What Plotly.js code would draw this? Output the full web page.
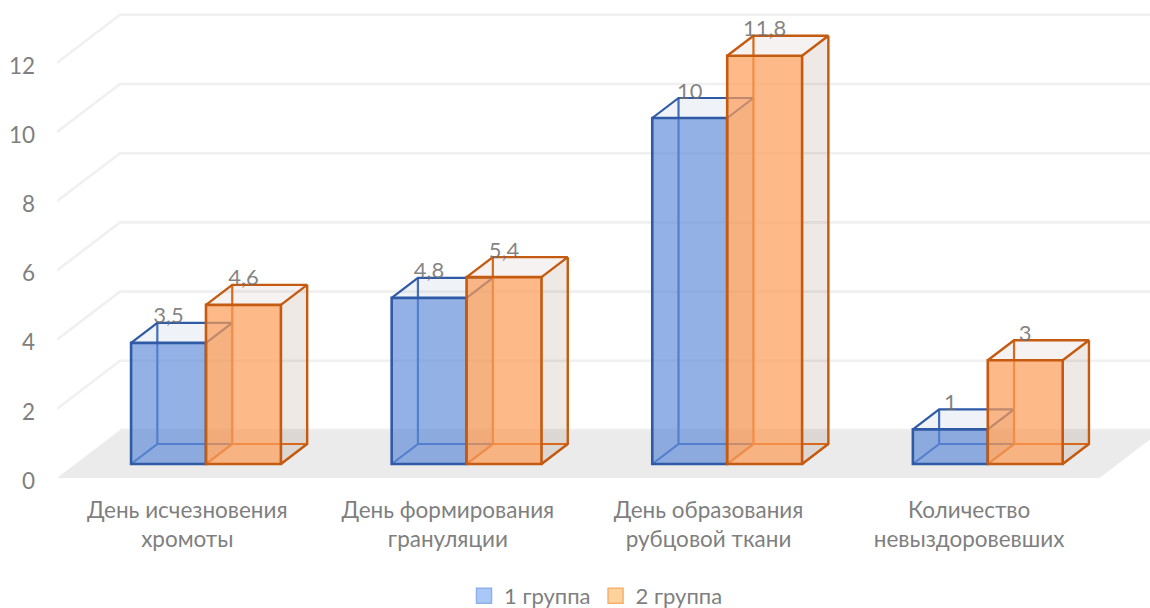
<!DOCTYPE html>
<html>
<head>
<meta charset="utf-8">
<script src="https://cdn.plot.ly/plotly-3.0.1.min.js"></script>
<style>html,body{margin:0;padding:0;background:#fff}#chart{width:1150px;height:608px}</style>
</head>
<body>
<div id="chart"></div>
<script>
// Chart values
const categories = ['День исчезновения<br>хромоты', 'День формирования<br>грануляции', 'День образования<br>рубцовой ткани', 'Количество<br>невыздоровевших'];
const group1Values = [3.5, 4.8, 10, 1];
const group2Values = [4.6, 5.4, 11.8, 3];
const seriesNames = ['1 группа', '2 группа'];
const yTicks = [0, 2, 4, 6, 8, 10, 12];

// Pseudo-3D geometry, in axis units
const W = 1150, H = 608, LEFT = 57, BOTTOM = 130;
const pxX = 260.6, pxY = 34.6;             // pixels per axis unit
const xMax = (W - LEFT) / pxX, yMax = (H - BOTTOM) / pxY;
const floorDX = 63 / pxX, floorDY = 48 / pxY; // shift from the front plane to the back wall
const tFront = 14 / 48, tBack = 34 / 48;   // depth of the bar faces within the floor
const barW = 0.2875, barGap = 0.2137;
const labelLift = 25 / pxY;

const project = (x, v, t) => [x + t * floorDX, v + t * floorDY];
const FONT = 'Lato, "Noto Sans", sans-serif';
const TEXT = '#7f7f7f';

function poly(points, fill, line, width, axes) {
  const closed = points.concat([points[0]]);
  return {
    type: 'scatter', mode: line ? 'lines' : 'none',
    x: closed.map(p => p[0]), y: closed.map(p => p[1]),
    fill: 'toself', fillcolor: fill,
    line: { color: line || 'rgba(0,0,0,0)', width: width || 0 },
    hoverinfo: 'skip', showlegend: false, xaxis: axes[0], yaxis: axes[1]
  };
}
function path(segments, color, width, axes) {
  const xs = [], ys = [];
  segments.forEach(seg => { seg.forEach(p => { xs.push(p[0]); ys.push(p[1]); }); xs.push(null); ys.push(null); });
  return {
    type: 'scatter', mode: 'lines', x: xs, y: ys,
    line: { color: color, width: width },
    hoverinfo: 'skip', showlegend: false, xaxis: axes[0], yaxis: axes[1]
  };
}

const xLeft = (cat, idx) => cat + barGap + idx * barW;

function boxCorners(cat, idx, value) {
  const x0 = xLeft(cat, idx), x1 = x0 + barW;
  return {
    fbl: project(x0, 0, tFront), fbr: project(x1, 0, tFront),
    ftl: project(x0, value, tFront), ftr: project(x1, value, tFront),
    bbl: project(x0, 0, tBack), bbr: project(x1, 0, tBack),
    btl: project(x0, value, tBack), btr: project(x1, value, tBack)
  };
}
function backEdges(values, idx, color, axes) {
  const segs = [];
  values.forEach((v, c) => {
    const k = boxCorners(c, idx, v);
    segs.push([k.fbl, k.bbl, k.btl], [k.bbl, k.bbr], [k.fbr, k.bbr]);
  });
  return path(segs, color, 2.2, axes);
}
function frontBars(values, idx, name, fill, edge, axes) {
  const base = project(0, 0, tFront)[1];
  return {
    type: 'bar', name: name, showlegend: false, hoverinfo: 'skip',
    x: values.map((v, c) => project(xLeft(c, idx) + barW / 2, 0, tFront)[0]),
    y: values, base: values.map(() => base), width: values.map(() => barW),
    marker: { color: fill, line: { color: edge, width: 2.6 } },
    xaxis: axes[0], yaxis: axes[1]
  };
}

const traces = [];
const A1 = ['x', 'y'], A2 = ['x2', 'y2'], A3 = ['x3', 'y3'];

// Floor and wall grid
traces.push(poly([project(0, 0, 0), project(4, 0, 0), project(4, 0, 1), project(0, 0, 1)], '#ebebeb', null, 0, A1));
traces.push(path(yTicks.slice(1).map(v => [project(0, v, 0), project(0, v, 1), project(4.2, v, 1)]), '#f0f0f0', 2.6, A1));
traces.push(path([[project(0, 0, 1), project(4.2, 0, 1)]], '#ededed', 2.6, A1));

const BLUE_EDGE = '#2f5aa5', ORANGE_EDGE = '#c55a11';

// First group: inner edges below its front faces
traces.push(backEdges(group1Values, 0, '#4470bd', A1));
group1Values.forEach((v, c) => {
  const k = boxCorners(c, 0, v);
  traces.push(poly([k.ftl, k.btl, k.btr, k.ftr], 'rgba(47,85,151,0.08)', null, 0, A1));
});
traces.push(frontBars(group1Values, 0, seriesNames[0], 'rgba(90,135,215,0.65)', BLUE_EDGE, A2));

// Right-hand faces and rims of the first group, then the inner edges of the second
group1Values.forEach((v, c) => {
  const k = boxCorners(c, 0, v);
  traces.push(poly([k.fbr, k.bbr, k.btr, k.ftr], 'rgba(70,60,60,0.14)', null, 0, A2));
  traces.push(path([[k.ftl, k.btl, k.btr], [k.ftr, k.btr]], BLUE_EDGE, 2.2, A2));
});
group2Values.forEach((v, c) => {
  const k = boxCorners(c, 1, v);
  traces.push(poly([k.ftl, k.btl, k.btr, k.ftr], 'rgba(120,75,50,0.07)', null, 0, A2));
  traces.push(poly([k.fbr, k.bbr, k.btr, k.ftr], 'rgba(120,75,50,0.12)', null, 0, A2));
});
traces.push(backEdges(group2Values, 1, '#d9691c', A2));

// Second group: front faces and outer rims on top
traces.push(frontBars(group2Values, 1, seriesNames[1], 'rgba(253,155,85,0.70)', ORANGE_EDGE, A3));
group2Values.forEach((v, c) => {
  const k = boxCorners(c, 1, v);
  traces.push(path([[k.ftl, k.btl, k.btr, k.ftr], [k.btr, k.bbr, k.fbr]], ORANGE_EDGE, 2.4, A3));
});

// Value labels
[[group1Values, 0], [group2Values, 1]].forEach(([vals, idx]) => {
  traces.push({
    type: 'scatter', mode: 'text', xaxis: 'x3', yaxis: 'y3', hoverinfo: 'skip', showlegend: false,
    x: vals.map((v, c) => project(xLeft(c, idx) + barW / 2, 0, tFront)[0]),
    y: vals.map(v => project(0, v, tFront)[1] + labelLift),
    text: vals.map(v => String(v).replace('.', ',')),
    textposition: 'middle center',
    textfont: { family: FONT, size: 22, color: 'rgba(110,110,110,0.85)' }
  });
});

// Legend entries
[[seriesNames[0], '#a9c8f7', '#8fb1ea'], [seriesNames[1], '#fdd39c', '#f5b06e']].forEach(([n, f, l]) => {
  traces.push({
    type: 'scatter', mode: 'markers', name: n, x: [null], y: [null], hoverinfo: 'skip',
    marker: { symbol: 'square', size: 15, color: f, line: { color: l, width: 1.5 } }
  });
});

const hidden = over => ({ overlaying: over, visible: false, fixedrange: true });
const layout = {
  width: W, height: H, showlegend: true, hovermode: false,
  paper_bgcolor: '#ffffff', plot_bgcolor: '#ffffff',
  margin: { l: LEFT, r: 0, t: 0, b: BOTTOM, pad: 0, autoexpand: false },
  font: { family: FONT, size: 22, color: TEXT },
  xaxis: {
    range: [0, xMax], tickmode: 'array', tickvals: [0.5, 1.5, 2.5, 3.5], ticktext: categories,
    showgrid: false, zeroline: false, showline: false, ticks: '', ticklabelstandoff: 16,
    tickfont: { family: FONT, size: 22.5, color: TEXT }, fixedrange: true, automargin: false
  },
  yaxis: {
    range: [0, yMax], tickmode: 'array', tickvals: yTicks, ticktext: yTicks.map(String),
    showgrid: false, zeroline: false, showline: false, ticks: '', ticklabelstandoff: 21,
    ticklabelshift: 3,
    tickfont: { family: FONT, size: 22.5, color: TEXT }, fixedrange: true, automargin: false
  },
  xaxis2: Object.assign({ range: [0, xMax] }, hidden('x')),
  yaxis2: Object.assign({ range: [0, yMax] }, hidden('y')),
  xaxis3: Object.assign({ range: [0, xMax] }, hidden('x')),
  yaxis3: Object.assign({ range: [0, yMax] }, hidden('y')),
  legend: {
    orientation: 'h', x: (596 - LEFT) / (W - LEFT), xanchor: 'center',
    y: (478 - 596) / 478, yanchor: 'middle', font: { family: FONT, size: 22, color: TEXT },
    bgcolor: 'rgba(0,0,0,0)', itemclick: false, itemdoubleclick: false
  }
};
Plotly.newPlot('chart', traces, layout, { displayModeBar: false, staticPlot: true });
</script>
</body>
</html>
